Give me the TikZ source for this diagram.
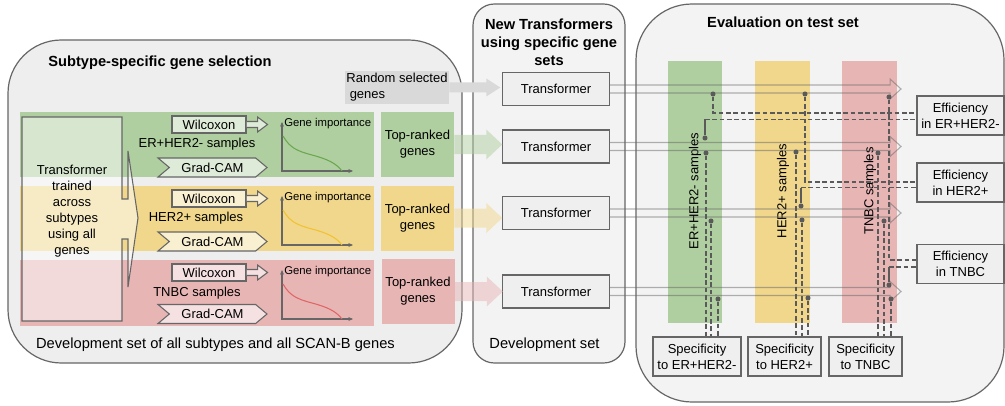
\documentclass[tikz,border=0pt]{standalone}
\usepackage{fontspec}
\setmainfont{Liberation Sans}
\usetikzlibrary{arrows.meta,calc,shapes.symbols}

\definecolor{edgegray}{HTML}{666666}
\definecolor{dotgray}{HTML}{5A5A5A}
\definecolor{leftbg}{HTML}{EEEEEE}
\definecolor{panelbg}{HTML}{F3F3F3}
\definecolor{boxbg}{HTML}{EFEFEF}
\definecolor{sgreen}{HTML}{B0CFA0}
\definecolor{syellow}{HTML}{F0D78C}
\definecolor{sred}{HTML}{E8B5B5}
\definecolor{cgreen}{HTML}{6AA84F}
\definecolor{cyellow}{HTML}{F1C232}
\definecolor{cred}{HTML}{E06666}
\definecolor{randgray}{HTML}{D9D9D9}

\tikzset{
  txt/.style={font=\fontsize{9.75}{12}\selectfont, align=center, inner sep=0pt},
  big/.style={font=\fontsize{11}{13}\selectfont, inner sep=0pt},
  ttl/.style={font=\fontsize{11}{13.5}\selectfont\bfseries, align=center, inner sep=0pt},
  small/.style={font=\fontsize{8.5}{10}\selectfont, anchor=west, inner sep=0pt},
  panel/.style={draw=edgegray, line width=.9pt},
  tbox/.style={txt, draw=edgegray, fill=boxbg, line width=.8pt, minimum width=80.25pt, minimum height=24.75pt},
  ebox/.style={txt, draw=edgegray, fill=boxbg, line width=.8pt, minimum width=65.25pt, minimum height=29.25pt},
  topbox/.style={txt, minimum width=54.75pt, minimum height=48.75pt},
  wbox/.style={txt, draw=edgegray, fill=white, fill opacity=.6, text opacity=1, line width=.8pt, minimum width=55.5pt, minimum height=12.75pt},
  gbox/.style={wbox, signal, signal to=east, signal from=west, signal pointer angle=80, minimum width=81.75pt, minimum height=14.25pt},
  flow/.style={draw=edgegray, draw opacity=.5, line width=.8pt},
  jdot/.style={circle, fill=dotgray, inner sep=0pt, minimum size=3.8pt},
  dline/.style={dotgray, line width=.8pt, dash pattern=on 3.5pt off 2pt},
  sline/.style={dotgray, line width=.8pt},
  axis/.style={edgegray, line width=.8pt, {Stealth[length=3.5pt,width=3pt]}-{Stealth[length=3.5pt,width=3pt]}},
}

\begin{document}
\begin{tikzpicture}[x=0.75pt, y=-0.75pt]
\useasboundingbox (0,0) rectangle (1005,406);

% panels
\draw[panel, fill=leftbg, rounded corners=40pt] (8,40) rectangle (462,363);
\draw[panel, fill=panelbg, rounded corners=16pt] (473,4) rectangle (625,363);
\draw[panel, fill=panelbg, rounded corners=42pt] (636,4) rectangle (1004,402);

\node[ttl] (lt) at (160,63) {Subtype-specific gene selection};
\node[big] (lf) at (215.5,345) {Development set of all subtypes and all SCAN-B genes};
\node[ttl] (mt) at (549,42) {New Transformers\\using specific gene\\sets};
\node[big] (mf) at (544.5,345) {Development set};
\node[ttl] (rt) at (783,22) {Evaluation on test set};

% subtype bands
\fill[sgreen] (20,112) rectangle (374,177);
\fill[syellow] (20,186) rectangle (374,251);
\fill[sred] (20,260) rectangle (374,326);

% transformer trained across subtypes
\draw[edgegray, line width=.8pt, fill=white, fill opacity=.5] (22,117) -- (122,117) -- (122,199) -- (128,199) -- (128,151) -- (138,218) -- (128,287) -- (128,239) -- (122,239) -- (122,321) -- (22,321) -- cycle;
\node[txt] (tt) at (72,211) {Transformer\\trained\\across\\subtypes\\using all\\genes};

% ER+HER2-
\node[wbox] (w1) at (209,124.5) {Wilcoxon};
\draw[edgegray, line width=.8pt, fill=white, fill opacity=.6] (w1.east) ++(0,-3) -- ++(11,0) -- ++(0,-4.5) -- ++(10,7.5) -- ++(-10,7.5) -- ++(0,-4.5) -- ++(-11,0);
\node[txt] (l1) at (197,144) {ER+HER2- samples};
\node[gbox] (g1) at (212.5,167.5) {Grad-CAM};
\draw[axis] (282,122) -- (282,171) -- (353,171);
\node[small] (gi1) at (284,124) {Gene importance};
\draw[cgreen, line width=.8pt] (283,136) .. controls (290,148) and (297,151) .. (312,155) .. controls (327,159) and (336,163) .. (342,171);

% HER2+
\node[wbox] (w2) at (209,198.5) {Wilcoxon};
\draw[edgegray, line width=.8pt, fill=white, fill opacity=.6] (w2.east) ++(0,-3) -- ++(11,0) -- ++(0,-4.5) -- ++(10,7.5) -- ++(-10,7.5) -- ++(0,-4.5) -- ++(-11,0);
\node[txt] (l2) at (196,218) {HER2+ samples};
\node[gbox] (g2) at (212.5,241.5) {Grad-CAM};
\draw[axis] (282,196) -- (282,245) -- (353,245);
\node[small] (gi2) at (284,198) {Gene importance};
\draw[cyellow, line width=.8pt] (283,210) .. controls (290,222) and (297,225) .. (312,229) .. controls (327,233) and (336,237) .. (342,245);

% TNBC
\node[wbox] (w3) at (209,272.5) {Wilcoxon};
\draw[edgegray, line width=.8pt, fill=white, fill opacity=.6] (w3.east) ++(0,-3) -- ++(11,0) -- ++(0,-4.5) -- ++(10,7.5) -- ++(-10,7.5) -- ++(0,-4.5) -- ++(-11,0);
\node[txt] (l3) at (197,293) {TNBC samples};
\node[gbox] (g3) at (212.5,314) {Grad-CAM};
\draw[axis] (282,270) -- (282,319) -- (353,319);
\node[small] (gi3) at (284,272) {Gene importance};
\draw[cred, line width=.8pt] (283,284) .. controls (290,296) and (297,299) .. (312,303) .. controls (327,307) and (336,311) .. (342,319);

% gene sets
\node[topbox, fill=sgreen] (top1) at (417.5,144.5) {Top-ranked\\genes};
\node[topbox, fill=syellow] (top2) at (417.5,218) {Top-ranked\\genes};
\node[topbox, fill=sred] (top3) at (418,291.5) {Top-ranked\\genes};
\node[txt, fill=randgray, minimum width=78pt, minimum height=24.75pt, align=left] (rand) at (397,87.5) {Random selected\\\hspace{2.5pt}genes};

% new transformers
\node[tbox] (t1) at (556,89) {Transformer};
\node[tbox] (t2) at (556,146.5) {Transformer};
\node[tbox] (t3) at (556,213) {Transformer};
\node[tbox] (t4) at (556,291.5) {Transformer};

\fill[randgray] (rand.east) ++(0,-5) -- ++(37,0) -- ++(0,-4) -- ++(14,9) -- ++(-14,9) -- ++(0,-4) -- ++(-37,0) -- cycle;
\fill[sgreen, opacity=.5] (top1.east) ++(0,-9.5) -- ++(32,0) -- ++(0,-5.5) -- ++(16,15) -- ++(-16,15) -- ++(0,-5.5) -- ++(-32,0) -- cycle;
\fill[syellow, opacity=.5] (top2.east) ++(0,-9.5) -- ++(32,0) -- ++(0,-5.5) -- ++(16,15) -- ++(-16,15) -- ++(0,-5.5) -- ++(-32,0) -- cycle;
\fill[sred, opacity=.5] (top3.east) ++(0,-9.5) -- ++(32,0) -- ++(0,-5.5) -- ++(16,15) -- ++(-16,15) -- ++(0,-5.5) -- ++(-32,0) -- cycle;

% test set columns
\fill[sgreen] (668,61) rectangle (722,323);
\fill[syellow] (755,61) rectangle (810,323);
\fill[sred] (842,61) rectangle (897,323);
\node[txt, rotate=90] (cl1) at (695,191) {ER+HER2- samples};
\node[txt, rotate=90] (cl2) at (783,191) {HER2+ samples};
\node[txt, rotate=90] (cl3) at (870,191) {TNBC samples};

\draw[flow] (t1.east) ++(0,-4) -- ++(280,0) -- ++(0,-6) -- ++(11,10) -- ++(-11,10) -- ++(0,-6) -- ++(-280,0);
\draw[flow] (t2.east) ++(0,-4) -- ++(280,0) -- ++(0,-6) -- ++(11,10) -- ++(-11,10) -- ++(0,-6) -- ++(-280,0);
\draw[flow] (t3.east) ++(0,-4) -- ++(280,0) -- ++(0,-6) -- ++(11,10) -- ++(-11,10) -- ++(0,-6) -- ++(-280,0);
\draw[flow] (t4.east) ++(0,-4) -- ++(280,0) -- ++(0,-6) -- ++(11,10) -- ++(-11,10) -- ++(0,-6) -- ++(-280,0);

% result boxes
\node[ebox] (eff1) at (960.5,115.5) {Efficiency\\in ER+HER2-};
\node[ebox] (eff2) at (960.5,182.5) {Efficiency\\in HER2+};
\node[ebox] (eff3) at (960.5,264) {Efficiency\\in TNBC};
\node[ebox, minimum width=66pt] (spec1) at (697,356.5) {Specificity\\to ER+HER2-};
\node[ebox, minimum width=54.75pt] (spec2) at (784.5,356.5) {Specificity\\to HER2+};
\node[ebox, minimum width=54.75pt] (spec3) at (865.5,356.5) {Specificity\\to TNBC};

% measurement points
\node[jdot] (e1a) at (713,94) {};
\node[jdot] (e1b) at (705,138) {};
\node[jdot] (s1a) at (706,153) {};
\node[jdot] (s1b) at (711,221) {};
\node[jdot] (s1c) at (718,299) {};
\node[jdot] (e2a) at (805,94) {};
\node[jdot] (e2b) at (801,206) {};
\node[jdot] (s2a) at (796,152) {};
\node[jdot] (s2b) at (802,220) {};
\node[jdot] (s2c) at (808,298) {};
\node[jdot] (e3a) at (889,97) {};
\node[jdot] (e3b) at (889,285) {};
\node[jdot] (s3a) at (878,153) {};
\node[jdot] (s3b) at (884,221) {};
\node[jdot] (s3c) at (891,299) {};

\draw[dline] (e1a) -- ++(0,19) coordinate (c1a) -- (c1a -| eff1.west);
\draw[sline] (e1b) -- ++(0,-18.5) coordinate (c1b);
\draw[dline] (c1b) -- (c1b -| eff1.west);
\draw[dline] (e2a) -- ++(0,88) coordinate (c2a) -- (c2a -| eff2.west);
\draw[sline] (e2b) -- ++(0,-18.5) coordinate (c2b);
\draw[dline] (c2b) -- (c2b -| eff2.west);
\draw[dline] (e3a) -- ++(0,163) coordinate (c3a) -- (c3a -| eff3.west);
\draw[sline] (e3b) -- ++(0,-18) coordinate (c3b);
\draw[dline] (c3b) -- (c3b -| eff3.west);

\draw[dline] (s1a) -- (s1a |- spec1.north);
\draw[dline] (s1b) -- (s1b |- spec1.north);
\draw[dline] (s1c) -- (s1c |- spec1.north);
\draw[dline] (s2a) -- (s2a |- spec2.north);
\draw[dline] (s2b) -- (s2b |- spec2.north);
\draw[dline] (s2c) -- (s2c |- spec2.north);
\draw[dline] (s3a) -- (s3a |- spec3.north);
\draw[dline] (s3b) -- (s3b |- spec3.north);
\draw[dline] (s3c) -- (s3c |- spec3.north);

\end{tikzpicture}
\end{document}
